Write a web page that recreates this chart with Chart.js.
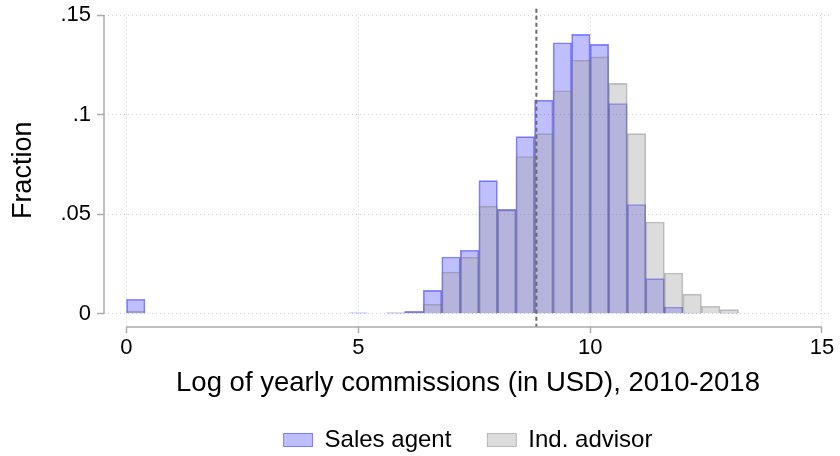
<!DOCTYPE html>
<html>
<head>
<meta charset="utf-8">
<script src="https://cdn.jsdelivr.net/npm/chart.js@4"></script>
<style>
  html, body { margin: 0; padding: 0; background: #fff; }
  #wrap { width: 840px; height: 456px; }
</style>
</head>
<body>
<div id="wrap"><canvas id="histChart" width="840" height="456"></canvas></div>
<script>
// Histogram bins (mid points, width 0.4)
const binMid = [0.2, 5.0, 5.8, 6.2, 6.6, 7.0, 7.4, 7.8, 8.2, 8.6, 9.0, 9.4, 9.8, 10.2, 10.6, 11.0, 11.4, 11.8, 12.2, 12.6, 13.0];
const agentShare = [0.0073, 0.0005, 0.0005, 0.0012, 0.0118, 0.0285, 0.0319, 0.0669, 0.0524, 0.089, 0.1073, 0.1361, 0.1403, 0.1353, 0.1056, 0.0549, 0.0177, 0.0034, 0.0003, null, 0.0003];
const advisorShare = [0.0012, null, 0.0003, 0.0008, 0.0048, 0.021, 0.0284, 0.054, 0.052, 0.079, 0.0905, 0.112, 0.1274, 0.129, 0.1157, 0.0905, 0.0461, 0.0205, 0.0099, 0.0038, 0.0021];
const seriesNames = ['Sales agent', 'Ind. advisor'];
const xTicks = [0, 5, 10, 15];
const yTicks = [0, 0.05, 0.1, 0.15];
const yTickLabels = ['0', '.05', '.1', '.15'];
const meanLog = 8.84; // dashed reference line

const fontFamily = "'Liberation Sans', Helvetica, Arial, sans-serif";
Chart.defaults.font.family = fontFamily;
Chart.defaults.color = '#000';

// axis lines only span the tick range, like the original
const axisLines = {
  id: 'axisLines',
  afterDatasetsDraw(chart) {
    const { ctx, chartArea, scales: { x } } = chart;
    ctx.save();
    // dashed line at the mean
    ctx.strokeStyle = '#6a6a6a';
    ctx.lineWidth = 2;
    ctx.setLineDash([4, 3]);
    const mx = x.getPixelForValue(meanLog);
    ctx.beginPath();
    ctx.moveTo(mx, chartArea.top - 5);
    ctx.lineTo(mx, chartArea.bottom);
    ctx.stroke();
    ctx.restore();
  },
  afterDraw(chart) {
    const { ctx, chartArea, scales: { x, y } } = chart;
    ctx.save();
    ctx.strokeStyle = '#ababab';
    ctx.lineWidth = 1.5;
    ctx.beginPath();
    ctx.moveTo(chartArea.left, y.getPixelForValue(yTicks[yTicks.length - 1]));
    ctx.lineTo(chartArea.left, y.getPixelForValue(yTicks[0]));
    ctx.moveTo(x.getPixelForValue(xTicks[0]), chartArea.bottom);
    ctx.lineTo(x.getPixelForValue(xTicks[xTicks.length - 1]), chartArea.bottom);
    ctx.stroke();
    ctx.restore();
  }
};

const ctx = document.getElementById('histChart').getContext('2d');
new Chart(ctx, {
  type: 'bar',
  data: {
    datasets: [{
      label: seriesNames[0],
      data: binMid.map((x, i) => ({ x: x, y: agentShare[i] })),
      backgroundColor: 'rgba(0, 0, 255, 0.25)',
      borderColor: 'rgba(0, 0, 255, 0.45)',
      borderWidth: 1,
      order: 2
    }, {
      label: seriesNames[1],
      data: binMid.map((x, i) => ({ x: x, y: advisorShare[i] })),
      backgroundColor: 'rgba(159, 159, 159, 0.365)',
      borderColor: 'rgba(110, 110, 110, 0.42)',
      borderWidth: 1,
      order: 1
    }]
  },
  options: {
    responsive: false,
    animation: false,
    grouped: false,
    barPercentage: 1,
    categoryPercentage: 1,
    layout: { padding: { top: 8, right: 8, left: 0, bottom: 0 } },
    scales: {
      x: {
        type: 'linear',
        offset: false,
        min: -0.485,
        max: 15.216,
        afterBuildTicks: s => { s.ticks = xTicks.map(v => ({ value: v })); },
        afterFit: s => { s.height = 65; },
        border: { display: false, dash: [1, 3] },
        grid: {
          offset: false,
          color: '#cfcfcf',
          tickColor: '#ababab',
          tickBorderDash: [],
          tickLength: 6,
          tickWidth: 1.5
        },
        ticks: {
          font: { size: 22 },
          padding: 2,
          maxRotation: 0,
          callback: v => String(v)
        },
        title: {
          display: true,
          text: 'Log of yearly commissions (in USD), 2010-2018',
          font: { size: 27.5 },
          padding: { top: 0, bottom: -8 }
        }
      },
      y: {
        min: -0.00663,
        max: 0.1507,
        afterBuildTicks: s => { s.ticks = yTicks.map(v => ({ value: v })); },
        afterFit: s => { s.width = 104; },
        border: { display: false, dash: [1, 3] },
        grid: {
          color: '#cfcfcf',
          tickColor: '#ababab',
          tickBorderDash: [],
          tickLength: 7,
          tickWidth: 1.5
        },
        ticks: {
          font: { size: 22, lineHeight: 0.7 },
          padding: 6,
          callback: (v, i) => yTickLabels[i]
        },
        title: {
          display: true,
          text: 'Fraction',
          font: { size: 27 },
          padding: { top: 7, bottom: 0 }
        }
      }
    },
    plugins: {
      tooltip: { enabled: false },
      legend: {
        position: 'bottom',
        fullSize: false,
        maxHeight: 64,
        labels: {
          boxWidth: 29,
          boxHeight: 13,
          padding: 36,
          font: { size: 24 },
          sort: (a, b) => a.datasetIndex - b.datasetIndex
        }
      }
    }
  },
  plugins: [axisLines]
});
</script>
</body>
</html>
